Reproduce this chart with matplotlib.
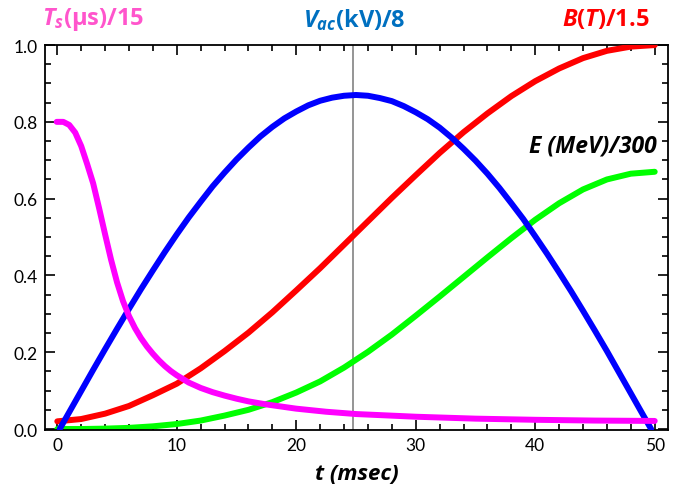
import matplotlib
matplotlib.use("Agg")
import matplotlib.pyplot as plt
from matplotlib.ticker import MultipleLocator, FormatStrFormatter

plt.rcParams['mathtext.fontset'] = 'custom'
plt.rcParams['mathtext.it'] = 'Open Sans:italic:bold'
plt.rcParams['mathtext.rm'] = 'Open Sans:bold'

# T_s (us)/15
t_ts = [-0.05, 0.5, 1.0, 1.5, 2.0, 2.5, 3.0, 3.5, 4.0, 4.5, 5.0, 5.5, 6.0, 6.5,
        7.0, 7.5, 8.0, 8.5, 9.0, 9.5, 10, 11, 12, 13, 14, 15, 16, 17.5, 20,
        22.5, 25, 30, 35, 40, 45, 50]
ts = [0.80, 0.80, 0.792, 0.772, 0.737, 0.69, 0.64, 0.575, 0.507, 0.441, 0.382,
      0.333, 0.294, 0.263, 0.237, 0.215, 0.196, 0.179, 0.164, 0.151, 0.140,
      0.121, 0.107, 0.096, 0.087, 0.079, 0.072, 0.064, 0.053, 0.045, 0.039,
      0.032, 0.027, 0.024, 0.022, 0.021]

# V_ac (kV)/8
t_vac = [0.2, 1, 2, 3, 4, 5, 6, 7, 8, 9, 10, 11, 12, 13, 14, 15, 16, 17, 18,
         19, 20, 21, 22, 23, 24, 25, 26, 27, 28, 29, 30, 31, 32, 33, 34, 35,
         36, 37, 38, 39, 40, 41, 42, 43, 44, 45, 46, 47, 48, 49, 49.7]
vac = [0.0, 0.044, 0.099, 0.154, 0.208, 0.261, 0.313, 0.364, 0.413, 0.461,
       0.507, 0.551, 0.592, 0.632, 0.668, 0.702, 0.733, 0.762, 0.787, 0.809,
       0.827, 0.843, 0.855, 0.863, 0.868, 0.870, 0.868, 0.862, 0.854, 0.841,
       0.825, 0.807, 0.785, 0.759, 0.730, 0.699, 0.665, 0.628, 0.588, 0.547,
       0.502, 0.456, 0.408, 0.359, 0.308, 0.256, 0.203, 0.148, 0.093, 0.038,
       0.0]

# B(T)/1.5
t_b = [0, 2, 4, 6, 8, 10, 12, 14, 16, 18, 20, 22, 24, 26, 28, 30, 32, 34, 36,
       38, 40, 42, 44, 46, 48, 50]
b = [0.020, 0.026, 0.040, 0.060, 0.088, 0.118, 0.158, 0.203, 0.251, 0.304,
     0.361, 0.419, 0.480, 0.541, 0.602, 0.661, 0.719, 0.773, 0.822, 0.867,
     0.906, 0.939, 0.966, 0.985, 0.996, 1.0]

# E (MeV)/300
t_e = [0, 2, 4, 6, 8, 10, 12, 14, 16, 18, 20, 22, 24, 26, 28, 30, 32, 34, 36,
       38, 40, 42, 44, 46, 48, 50]
e = [0.0, 0.0, 0.001, 0.003, 0.007, 0.013, 0.022, 0.035, 0.050, 0.070, 0.095,
     0.124, 0.160, 0.201, 0.246, 0.295, 0.345, 0.396, 0.447, 0.497, 0.545,
     0.588, 0.624, 0.650, 0.665, 0.670]

fig = plt.figure(figsize=(6.89, 4.85), dpi=100)
ax = fig.add_axes([0.0653, 0.111, 0.904, 0.794])

lw = 4.3
ax.axvline(24.75, color='#8c8c8c', lw=1.3, zorder=1)
ax.plot(t_e, e, color='#00ff00', lw=lw, solid_capstyle='round', zorder=2)
ax.plot(t_b, b, color='#ff0000', lw=lw, solid_capstyle='round', zorder=3)
ax.plot(t_vac, vac, color='#0000ff', lw=lw, solid_capstyle='round', zorder=4)
ax.plot(t_ts, ts, color='#ff00ff', lw=lw, solid_capstyle='round', zorder=5)

ax.set_xlim(-1.03, 51.1)
ax.set_ylim(-0.003, 1.0)
ax.xaxis.set_major_locator(MultipleLocator(10))
ax.xaxis.set_minor_locator(MultipleLocator(2))
ax.yaxis.set_major_locator(MultipleLocator(0.2))
ax.yaxis.set_minor_locator(MultipleLocator(0.05))
ax.yaxis.set_major_formatter(FormatStrFormatter('%.1f'))
ax.tick_params(which='both', direction='in', top=True, right=True, width=1.2,
               labelsize=12.5, pad=5)
ax.tick_params(which='major', length=7)
ax.tick_params(which='minor', length=4)
for lab in ax.get_xticklabels() + ax.get_yticklabels():
    lab.set_family('Lato')
for s in ax.spines.values():
    s.set_linewidth(1.3)

ax.set_xlabel('t (msec)', fontsize=16, fontweight='bold', fontstyle='italic',
              family='Open Sans')
ax.xaxis.set_label_coords(0.5, -0.085)

fig.text(0.135, 0.959, r'$T_s$(μs)/15', color='#ff55cc', fontsize=17,
         fontweight='bold', family='Open Sans', ha='center', va='center')
fig.text(0.514, 0.959, r'$V_{ac}$(kV)/8', color='#0070c0', fontsize=17,
         fontweight='bold', family='Open Sans', ha='center', va='center')
fig.text(0.88, 0.959, r'$B(T)$/1.5', color='#ff0000', fontsize=17,
         fontweight='bold', family='Open Sans', ha='center', va='center')
ax.text(50.2, 0.738, 'E (MeV)/300', color='black', fontsize=16.5,
        fontweight='bold', fontstyle='italic', family='Open Sans',
        ha='right', va='center')

fig.savefig('out.png', dpi=100)
